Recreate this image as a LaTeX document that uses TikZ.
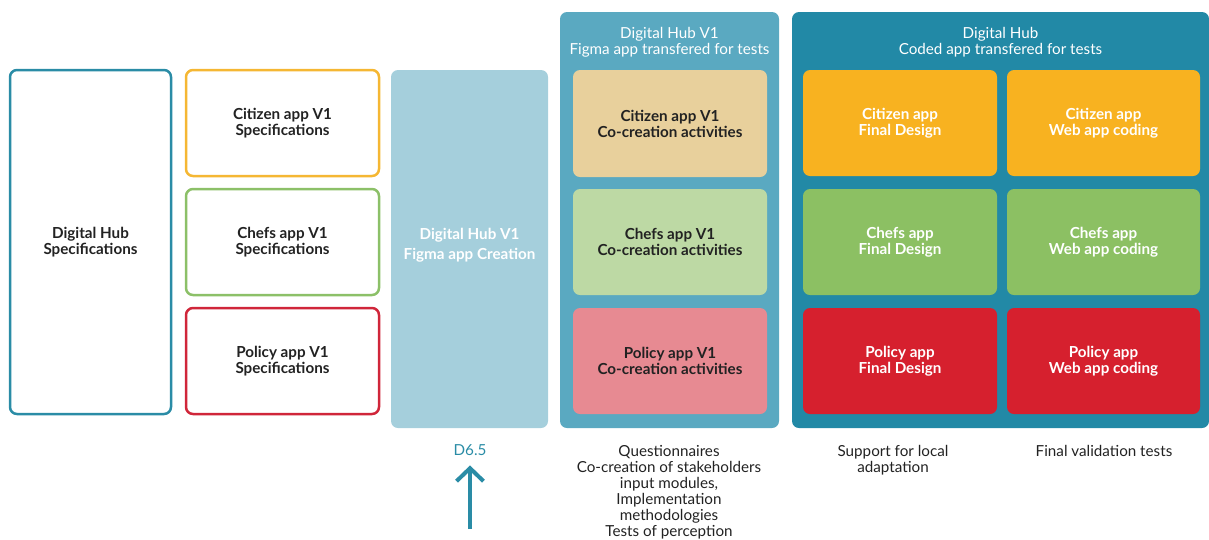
\documentclass[tikz,border=0pt]{standalone}
\usepackage{fontspec}
\setmainfont{Lato}
\usetikzlibrary{arrows.meta}
\definecolor{hubteal}{HTML}{2A8CA6}
\definecolor{specorange}{HTML}{F5B733}
\definecolor{specgreen}{HTML}{8CC068}
\definecolor{specred}{HTML}{D0263A}
\definecolor{figmablue}{HTML}{A5CFDC}
\definecolor{vonebg}{HTML}{5AA9C1}
\definecolor{codedbg}{HTML}{2289A6}
\definecolor{cotan}{HTML}{E8D09C}
\definecolor{colgreen}{HTML}{BDD9A4}
\definecolor{copink}{HTML}{E78A92}
\definecolor{fincit}{HTML}{F8B220}
\definecolor{finchef}{HTML}{8CC063}
\definecolor{finpol}{HTML}{D6202E}
\definecolor{txtdark}{HTML}{222222}
\newcommand{\mainsize}{\fontsize{15.2}{16}\selectfont}
\tikzset{
  box/.style={rounded corners=7pt, align=center, inner sep=0pt, font=\mainsize\bfseries, text=txtdark},
  outlined/.style={box, draw, line width=2.5pt, fill=white},
  filled/.style={box, draw=none},
  title/.style={align=center, text=white, font=\mainsize, inner sep=0pt},
  note/.style={align=center, text=txtdark, font=\mainsize, inner sep=0pt, anchor=north},
}
\begin{document}
\begin{tikzpicture}[x=1pt, y=-1pt]
\useasboundingbox (0,0) rectangle (1209,539);
% column 1
\node[outlined, draw=hubteal, minimum width=161pt, minimum height=344pt] (dhs) at (90.5,242) {Digital Hub\\Specifications};
% column 2
\node[outlined, draw=specorange, minimum width=193pt, minimum height=106pt] (cs) at (282.5,123) {Citizen app V1\\Specifications};
\node[outlined, draw=specgreen, minimum width=193pt, minimum height=106pt] (chs) at (282.5,242) {Chefs app V1\\Specifications};
\node[outlined, draw=specred, minimum width=193pt, minimum height=106pt] (ps) at (282.5,361) {Policy app V1\\Specifications};
% column 3
\node[filled, fill=figmablue, minimum width=157pt, minimum height=358pt, text=white, font=\fontsize{15.2}{20}\selectfont\bfseries] (fig) at (469.5,249) {};
\node[box, text=white, font=\fontsize{15.2}{20}\selectfont\bfseries] (figt) at (469.5,245) {Digital Hub V1\\Figma app Creation};
% column 4
\node[filled, fill=vonebg, minimum width=219pt, minimum height=416pt] (v1) at (669.5,220) {};
\node[title] (v1t) at (669.5,42) {Digital Hub V1\\Figma app transfered for tests};
\node[filled, fill=cotan, minimum width=194pt, minimum height=107pt] (cc) at (670,123.5) {Citizen app V1\\Co-creation activities};
\node[filled, fill=colgreen, minimum width=194pt, minimum height=106pt] (chc) at (670,242) {Chefs app V1\\Co-creation activities};
\node[filled, fill=copink, minimum width=194pt, minimum height=106pt] (pc) at (670,361) {Policy app V1\\Co-creation activities};
% column 5
\node[filled, fill=codedbg, minimum width=417pt, minimum height=416pt] (cod) at (1000.5,220) {};
\node[title] (codt) at (1000.5,42) {Digital Hub\\Coded app transfered for tests};
\node[filled, fill=fincit, text=white, minimum width=194pt, minimum height=106pt] (cfd) at (900,123) {Citizen app\\Final Design};
\node[filled, fill=fincit, text=white, minimum width=193pt, minimum height=106pt] (cwc) at (1103.5,123) {Citizen app\\Web app coding};
\node[filled, fill=finchef, text=white, minimum width=194pt, minimum height=106pt] (chfd) at (900,242) {Chefs app\\Final Design};
\node[filled, fill=finchef, text=white, minimum width=193pt, minimum height=106pt] (chwc) at (1103.5,242) {Chefs app\\Web app coding};
\node[filled, fill=finpol, text=white, minimum width=194pt, minimum height=106pt] (pfd) at (900,361) {Policy app\\Final Design};
\node[filled, fill=finpol, text=white, minimum width=193pt, minimum height=106pt] (pwc) at (1103.5,361) {Policy app\\Web app coding};
% bottom notes
\node[note, text=hubteal] (d65) at (470,444) {D6.5};
\coordinate (arrbase) at (470,529);
\draw[hubteal, line width=4pt, -{Straight Barb[length=13pt, width=27pt, line width=4pt]}] (arrbase) -- ([yshift=-10pt]d65.south);
\node[note] (q) at (669,445) {Questionnaires\\Co-creation of stakeholders\\input modules,\\Implementation\\methodologies\\Tests of perception};
\node[note] (sup) at (893,445) {Support for local\\adaptation};
\node[note] (fvt) at (1104,445) {Final validation tests};
\end{tikzpicture}
\end{document}
